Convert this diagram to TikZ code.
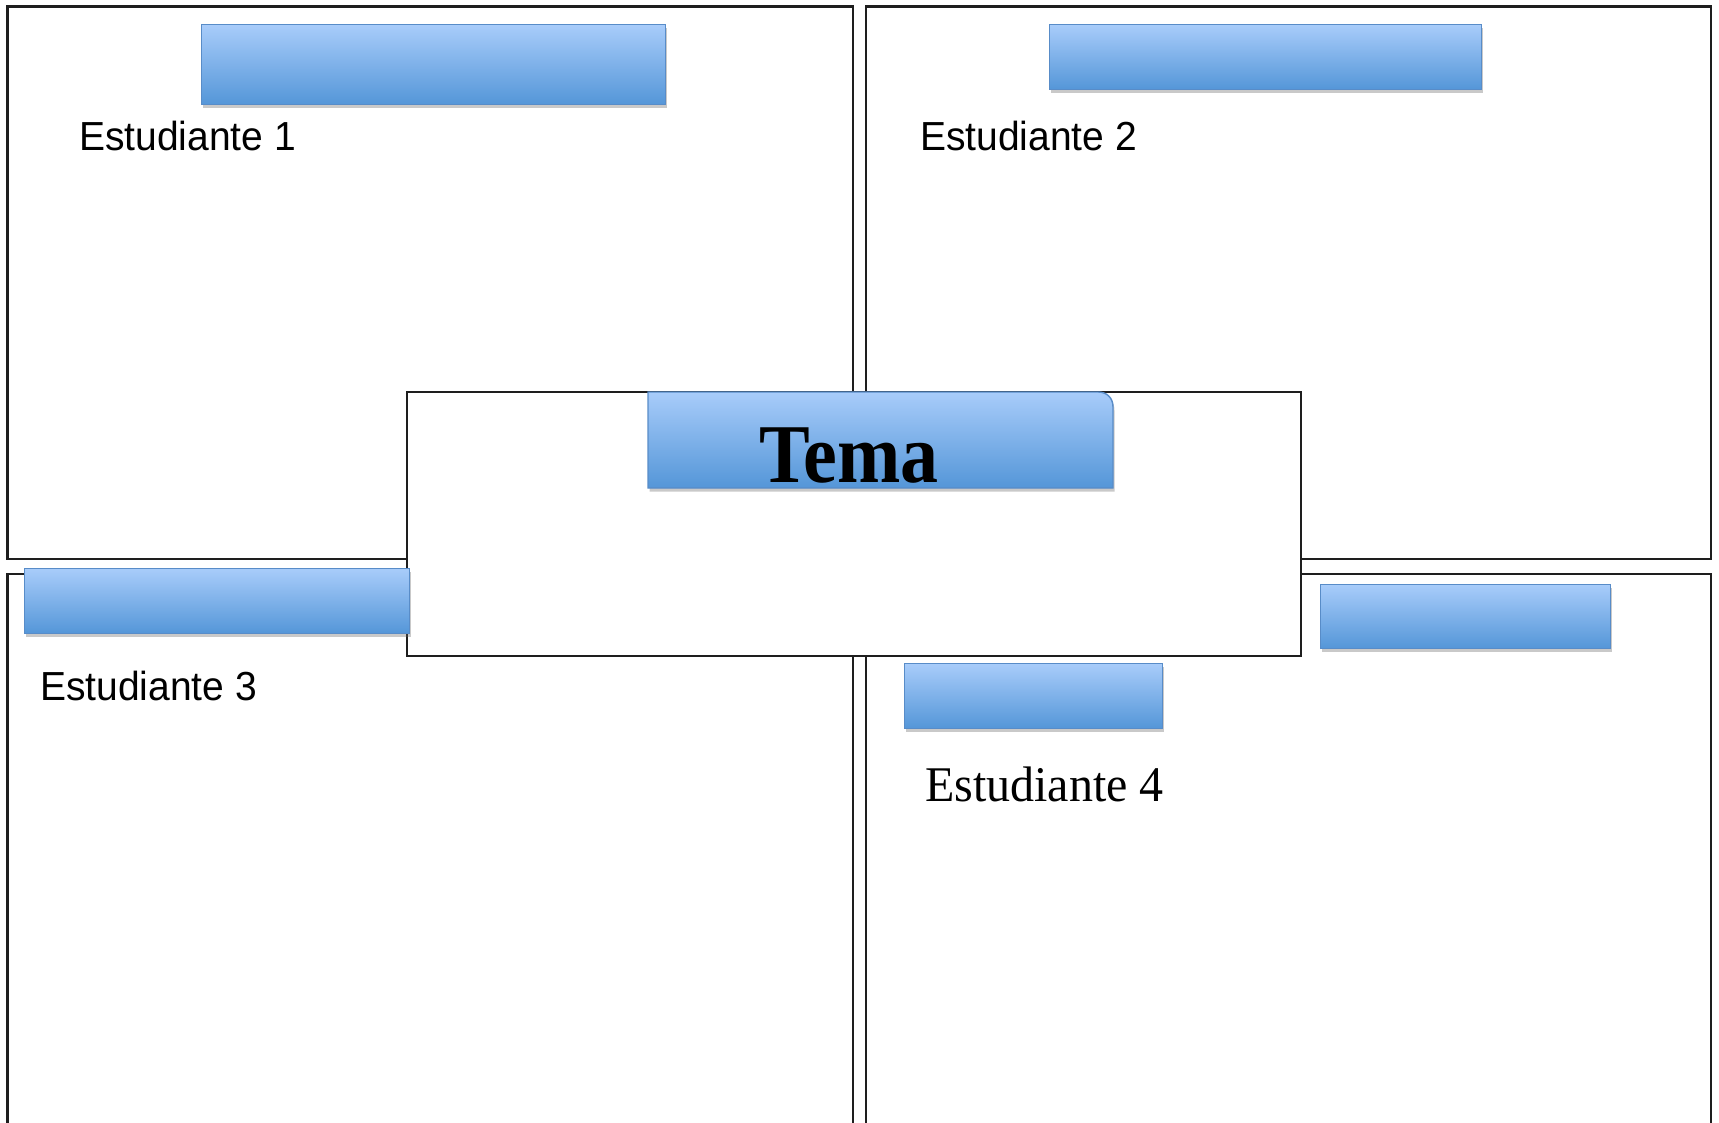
\documentclass[tikz,border=0pt]{standalone}
\usepackage{fontspec}
\setmainfont{Liberation Serif}
\newfontfamily\arialf{Liberation Sans}
\usetikzlibrary{shadows}
\definecolor{bluetop}{RGB}{168,204,250}
\definecolor{bluebot}{RGB}{84,150,216}
\definecolor{blueedge}{RGB}{88,140,200}
\definecolor{framec}{RGB}{30,30,30}
\begin{document}
\begin{tikzpicture}[x=1pt,y=-1pt,
  quad/.style={draw=framec, line width=2.7pt, fill=white},
  bluebox/.style={draw=blueedge, line width=1.4pt, top color=bluetop, bottom color=bluebot,
    drop shadow={shadow xshift=1.5pt, shadow yshift=-3.5pt, opacity=0.35, fill=black!60},
    inner sep=0pt, anchor=north west},
  sanslabel/.style={font=\arialf\fontsize{39}{39}\selectfont, anchor=base west, inner sep=0pt, yscale=1.04},
  seriflabel/.style={font=\fontsize{48}{48}\selectfont, anchor=base west, inner sep=0pt, yscale=1.04},
  temalabel/.style={font=\fontsize{76}{76}\selectfont\bfseries, anchor=base, inner sep=0pt, yscale=1.1}]
\useasboundingbox (0,0) rectangle (1719,1123);
\fill[white] (0,0) rectangle (1719,1123);
\clip (0,0) rectangle (1719,1123);
% quadrants
\draw[quad] (7.7,6.6) rectangle (853,559);
\draw[quad] (866,6.6) rectangle (1711,559);
\draw[quad] (7.7,574) rectangle (853,1140);
\draw[quad] (866,574) rectangle (1711,1140);
% centre box
\draw[quad] (407,392) rectangle (1301,656);
% Tema header with rounded top-right corner
\draw[draw=blueedge, line width=1.4pt, top color=bluetop, bottom color=bluebot,
    drop shadow={shadow xshift=1.5pt, shadow yshift=-3.5pt, opacity=0.35, fill=black!60}]
  (648,488) -- (648,392) -- (1098,392) .. controls (1107,392) and (1113,398) .. (1113,407)
  -- (1113,488) -- cycle;
\node[temalabel] (tema) at (849,482) {Tema};
% blue boxes
\node[bluebox, minimum width=464pt, minimum height=80pt] (b1) at (201,24) {};
\node[bluebox, minimum width=432pt, minimum height=65pt] (b2) at (1049,24) {};
\node[bluebox, minimum width=385pt, minimum height=65pt] (b3) at (24,568) {};
\node[bluebox, minimum width=290pt, minimum height=64pt] (b4a) at (1320,584) {};
\node[bluebox, minimum width=258pt, minimum height=65pt] (b4b) at (904,663) {};
% labels
\node[sanslabel] (e1) at (79,151) {Estudiante 1};
\node[sanslabel] (e2) at (920,151) {Estudiante 2};
\node[sanslabel] (e3) at (40,700) {Estudiante 3};
\node[seriflabel] (e4) at (925,801) {Estudiante 4};
\end{tikzpicture}
\end{document}
